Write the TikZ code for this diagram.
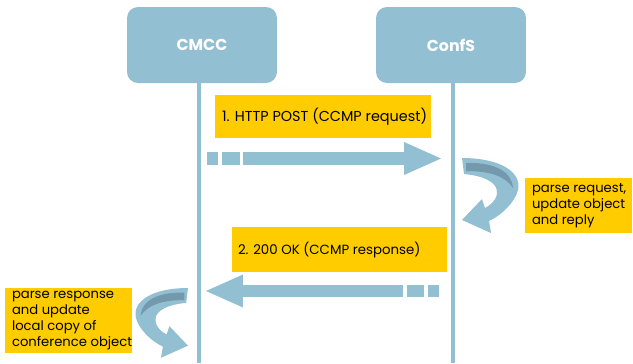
\documentclass[tikz,border=0pt]{standalone}
\usepackage{fontspec}
\setmainfont{Poppins}
\usetikzlibrary{arrows.meta,calc}
\definecolor{lblue}{HTML}{93BFD3}
\definecolor{dblue}{HTML}{7499AD}
\definecolor{lyellow}{HTML}{FFCC00}
\newcommand\curvyshape{%
    \fill[lblue] (0,0) .. controls (38,0) and (60,14) .. (56,32)
      .. controls (53,44) and (40,57) .. (27,63) -- (29,75) -- (0,62) -- (20,41) -- (23,50)
      .. controls (40,41) and (44,20) .. (2,16) -- cycle;
    \fill[dblue] (4,5) .. controls (33,4) and (50,14) .. (51,30)
      .. controls (43,18) and (28,13) .. (4,13) -- cycle;
}
\tikzset{
  actor/.style={fill=lblue, rounded corners=0.22cm, minimum width=3cm, minimum height=1.52cm,
    text=white, font=\fontsize{9}{11}\selectfont\bfseries, inner sep=0pt},
  lifeline/.style={draw=lblue, line width=0.08cm},
  ybox/.style={fill=lyellow, inner sep=0pt},
  ytext/.style={anchor=west, align=left, inner sep=0pt, font=\fontsize{7.5}{9.1}\selectfont},
  bigarrow/.style={draw=lblue, line width=0.25cm,
    -{Triangle[length=0.74cm,width=0.66cm,line width=0pt]}}
}
\begin{document}
\begin{tikzpicture}[x=0.02cm, y=-0.02cm]
\useasboundingbox (0,0) rectangle (633,363);
% actors
\node[actor] (cmcc) at (202,45) {CMCC};
\node[actor] (confs) at (451,45) {ConfS};
\coordinate (cmccend) at (199,363);
\coordinate (confsend) at (453,363);
\draw[lifeline] (cmccend |- cmcc.south) -- (cmccend);
\draw[lifeline] (confsend |- confs.south) -- (confsend);
% message 1
\node[ybox, minimum width=4.32cm, minimum height=0.86cm] (lab1) at (323,116.5) {};
\node[ytext, font=\fontsize{8.2}{10}\selectfont] (lab1t) at ([xshift=0.14cm]lab1.west) {1. HTTP POST (CCMP request)};
\coordinate (a1s) at (207,158.5);
\coordinate (a1e) at (441,158.5);
\draw[bigarrow, dash pattern=on 0.22cm off 0.08cm on 0.36cm off 0.06cm on 20cm] (a1s) -- (a1e);
% self action at ConfS
\begin{scope}[shift={(462,158)}]
\curvyshape
\end{scope}
\node[ybox, minimum width=2.14cm, minimum height=1.1cm] (lab3) at (578.5,205.5) {};
\node[ytext] (lab3t) at ([xshift=0.14cm]lab3.west) {parse request,\\update object\\and reply};
% message 2
\node[ybox, minimum width=4.30cm, minimum height=0.9cm] (lab2) at (339.5,249.5) {};
\node[ytext, font=\fontsize{7.6}{9}\selectfont] (lab2t) at ([xshift=0.12cm]lab2.west) {2. 200 OK (CCMP response)};
\coordinate (a2s) at (439,291);
\coordinate (a2e) at (206,291);
\draw[bigarrow, dash pattern=on 0.22cm off 0.08cm on 0.34cm off 0.08cm on 20cm] (a2s) -- (a2e);
% self action at CMCC
\begin{scope}[shift={(188,288)}, xscale=-0.93, yscale=0.93]
\curvyshape
\end{scope}
\node[ybox, minimum width=2.54cm, minimum height=1.3cm] (lab4) at (68.5,320.5) {};
\node[ytext] (lab4t) at ([xshift=0.14cm]lab4.west) {parse response\\and update\\local copy of\\conference object};
\end{tikzpicture}
\end{document}
